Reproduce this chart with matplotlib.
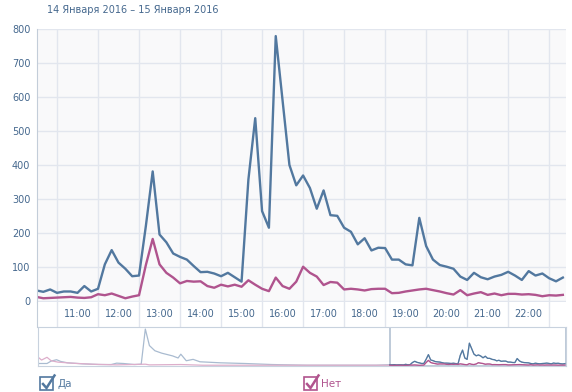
import numpy as np
import matplotlib
matplotlib.use("Agg")
import matplotlib.pyplot as plt
from matplotlib.patches import Rectangle
from matplotlib.lines import Line2D

# Main range: 15 Jan, every 10 minutes starting 10:30
yes_vals = [30, 26, 33, 23, 27, 27, 23, 43, 27, 35, 107, 149, 112, 94, 72, 74,
            220, 381, 195, 172, 139, 129, 121, 102, 84, 85, 80, 72, 82, 69, 56,
            357, 538, 264, 215, 780, 590, 400, 340, 369, 332, 271, 325, 252, 250,
            215, 203, 166, 184, 148, 156, 155, 121, 121, 107, 104, 244, 161, 121,
            105, 100, 94, 71, 61, 82, 69, 63, 71, 76, 85, 74, 61, 87, 74, 80, 66,
            57, 68]
no_vals = [11, 7, 8, 9, 10, 11, 9, 8, 10, 19, 16, 21, 14, 7, 12, 16,
           105, 182, 107, 82, 68, 51, 58, 56, 57, 43, 38, 47, 42, 47, 41,
           60, 47, 35, 28, 68, 43, 35, 56, 100, 82, 71, 46, 55, 53,
           33, 35, 33, 30, 34, 35, 35, 22, 23, 27, 30, 33, 35, 31,
           27, 22, 18, 31, 16, 21, 25, 17, 21, 16, 20, 20, 18, 19, 17, 13, 16,
           15, 17]
start_hour = 10.5
step_hours = 10 / 60

# Navigator: earlier period (hours relative to 15 Jan 00:00)
nav_yes_hours = [-15.3, -14.6, -14.3, -13.9, -13.6, -13.1, -12.0, -10.8, -9.9, -9.5,
                 -9.0, -8.2, -7.7, -7.4, -7.1, -6.7, -6.2, -5.4, -5.0, -4.8, -4.4,
                 -3.9, -3.4, -1.9, -0.1, 1.9, 4.4, 7.0, 9.5]
nav_yes_vals = [72, 72, 156, 204, 144, 96, 60, 36, 36, 84, 72, 36, 48, 1272, 696,
                516, 432, 336, 264, 396, 168, 216, 132, 96, 72, 36, 12, 12, 12]
nav_no_hours = [-15.3, -15.0, -14.6, -14.3, -13.8, -12.8, -11.3, -9.5, -7.4, -7.1,
                -4.8, -3.2, 9.5]
nav_no_vals = [312, 192, 288, 168, 120, 84, 48, 24, 48, 24, 36, 12, 12]

hour_ticks = list(range(11, 24))
hour_labels = [f"{h}:00" for h in range(11, 23)]
title_text = "14 Января 2016 – 15 Января 2016"
legend_names = ["Да", "Нет"]

blue = "#52789f"
pink = "#b0548e"
text_c = "#45688e"
grid_c = "#e2e6ee"

W, H = 572, 392
fig = plt.figure(figsize=(W / 100, H / 100), dpi=100)
plt.rcParams["font.family"] = ["DejaVu Sans"]

def box(x0, y0, x1, y1):
    return [x0 / W, 1 - y1 / H, (x1 - x0) / W, (y1 - y0) / H]

hours = start_hour + np.arange(len(yes_vals)) * step_hours
xmin, xmax = 10.52, 23.41

# main chart
ax = fig.add_axes(box(37.3, 29.3, 566, 302))
ax.set_facecolor("#f9f9fa")
ax.plot(hours, yes_vals, color=blue, lw=1.7, solid_joinstyle="round")
ax.plot(hours, no_vals, color=pink, lw=1.7, solid_joinstyle="round")
ax.set_xlim(xmin, xmax)
ax.set_ylim(-4, 800)
ax.set_yticks(range(0, 801, 100))
ax.set_xticks(hour_ticks)
ax.grid(True, color=grid_c, lw=1)
ax.set_axisbelow(True)
ax.tick_params(axis="y", length=0, pad=5, labelsize=7, labelcolor=text_c)
ax.tick_params(axis="x", length=0, labelbottom=False)
for s in ["top", "right", "bottom"]:
    ax.spines[s].set_visible(False)
ax.spines["left"].set_color("#c3cdd9")

# x label band
bx = fig.add_axes(box(37.3, 302, 566, 326.5))
bx.set_xlim(xmin, xmax)
bx.set_ylim(0, 1)
for h in hour_ticks:
    bx.axvline(h, color=grid_c, lw=1)
for h, lab in zip(range(11, 23), hour_labels):
    bx.text(h + 0.5, 0.5, lab, ha="center", va="center", fontsize=7, color=text_c)
bx.set_xticks([])
bx.set_yticks([])
for s in ["top", "right", "bottom"]:
    bx.spines[s].set_visible(False)
bx.spines["left"].set_color("#c3cdd9")

# navigator
nx = fig.add_axes(box(37.6, 326.5, 566, 366))
nav_left = xmin - (390 - 37.6) * (xmax - xmin) / (566 - 390)
nx.set_xlim(nav_left, xmax)
nx.set_ylim(-15, 1360)
nx.plot(list(nav_yes_hours) + list(hours), list(nav_yes_vals) + list(yes_vals),
        color="#a9bbd0", lw=0.9)
nx.plot(list(nav_no_hours) + list(hours), list(nav_no_vals) + list(no_vals),
        color="#ddaecb", lw=0.9)
nx.plot(hours, yes_vals, color=blue, lw=0.9)
nx.plot(hours, no_vals, color=pink, lw=0.9)
nx.add_patch(Rectangle((xmin, -15), xmax - xmin, 1375, fill=False,
                       edgecolor="#b3c1d2", lw=1.2))
nx.set_xticks([])
nx.set_yticks([])
for s in nx.spines.values():
    s.set_color("#c8d2de")

# title
fig.text(47 / W, 1 - 10 / H, title_text, fontsize=7, color=text_c, va="center", ha="left")

# legend checkboxes
def checkbox(x0, color, label):
    y0, size = 377, 13
    fig.patches.append(Rectangle((x0 / W, 1 - (y0 + size) / H), size / W, size / H,
                                 transform=fig.transFigure, fill=False,
                                 edgecolor=color, lw=1.2))
    xs = [x0 + 3, x0 + 6.5, x0 + size + 1.5]
    ys = [y0 + 7, y0 + 11, y0 - 1.5]
    fig.lines.append(Line2D([x / W for x in xs], [1 - y / H for y in ys],
                            transform=fig.transFigure, color=color, lw=1.8,
                            solid_joinstyle="miter"))
    fig.text((x0 + size + 4) / W, 1 - (y0 + 7) / H, label, fontsize=7.5,
             color=color, va="center", ha="left")

checkbox(40, blue, legend_names[0])
checkbox(304, pink, legend_names[1])

fig.savefig("out.png", dpi=100)
